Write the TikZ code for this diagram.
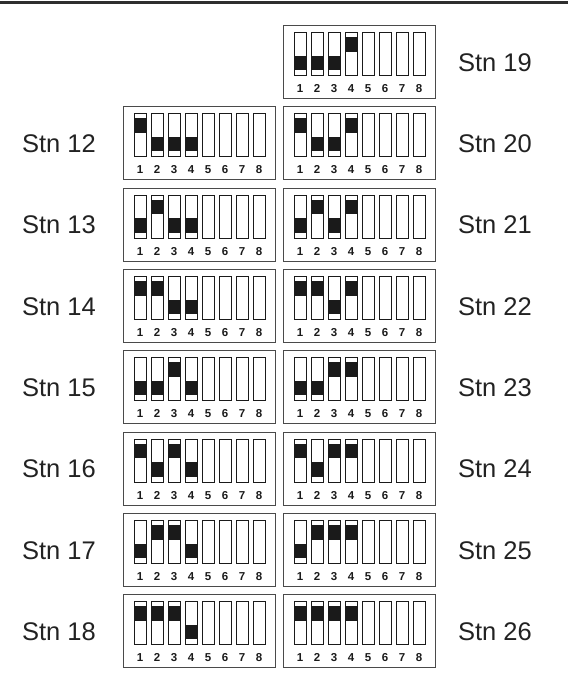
\documentclass[tikz,border=0pt]{standalone}
\usepackage{fontspec}
\setmainfont{Liberation Sans}
\usetikzlibrary{positioning}
\definecolor{dipInk}{HTML}{1A1A1A}
\definecolor{dipFrame}{HTML}{4A4A4A}
\definecolor{dipRule}{HTML}{2E2E2E}
\definecolor{dipText}{HTML}{222222}
\begin{document}
\begin{tikzpicture}[x=1pt,y=-1pt,
  dipbox/.style={draw=dipFrame,line width=0.9pt,minimum width=152pt,
    minimum height=73pt,inner sep=0pt,anchor=north west},
  lever/.style={draw=dipInk,line width=1pt,fill=white,minimum width=12pt,
    minimum height=43pt,inner sep=0pt,anchor=north west},
  knob/.style={fill=dipInk,minimum width=12pt,minimum height=14.5pt,
    inner sep=0pt,anchor=north west},
  digit/.style={font=\bfseries\fontsize{11.5}{12}\selectfont,text=dipInk,
    inner sep=0pt,anchor=base},
  stn/.style={font=\fontsize{25.5}{28}\selectfont,text=dipText,inner sep=0pt}]
\useasboundingbox (0,0) rectangle (568,687);
\draw[dipRule,line width=3.5pt] (0,2.75) -- (568,2.75);
% stations 12-18 left column, 19-26 right column
\foreach \n in {12,...,26} {
  \pgfmathtruncatemacro\v{\n-11}
  \pgfmathsetmacro\bx{\n<19 ? 123 : 283}
  \pgfmathsetmacro\lx{\n<19 ? 59 : 495}
  \pgfmathsetmacro\by{25+81.3*(\n<19 ? \n-11 : \n-19)}
  \node[dipbox] (box\n) at (\bx,\by) {};
  \node[stn] (lbl\n) at (\lx,\by+37.5) {Stn \n};
  \foreach \i in {1,...,8} {
    \pgfmathsetmacro\sx{\bx+11+17*(\i-1)}
    \node[lever] (box\n-\i) at (\sx,\by+7) {};
    \node[digit] (num\n-\i) at (\sx+6,\by+67.5) {\i};
  }
  % switches 1-4 carry the code n-11
  \foreach \i in {1,...,4} {
    \pgfmathtruncatemacro\bit{mod(floor(\v/2^(\i-1)),2)}
    \pgfmathsetmacro\ky{\bit==1 ? 12 : 30.5}
    \pgfmathsetmacro\sx{\bx+11+17*(\i-1)}
    \node[knob] (knob\n-\i) at (\sx,\by+\ky) {};
  }
}
\end{tikzpicture}
\end{document}
